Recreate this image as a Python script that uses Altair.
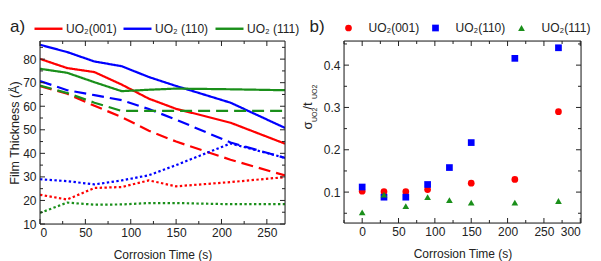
import altair as alt
import pandas as pd

FONT = "Liberation Sans"
INK = "#222222"

# ---------------- data ----------------
t = [0, 30, 60, 90, 120, 150, 210, 270]
orients = ["UO₂(001)", "UO₂ (110)", "UO₂ (111)"]
orients_b = ["UO₂(001)", "UO₂(110)", "UO₂(111)"]
kinds = ["solid", "dash", "dot"]
colors = ["#ff0000", "#0000ff", "#1a8f1a"]

a_001_solid = [80.1, 76.2, 74.5, 69.2, 63.2, 58.9, 53.0, 44.1]
a_001_dash = [68.5, 65.3, 60.2, 55.4, 49.6, 45.0, 37.3, 30.6]
a_001_dot = [22.4, 20.4, 25.3, 25.7, 28.5, 26.0, 27.8, 29.9]
a_110_solid = [86.1, 83.0, 79.0, 77.0, 72.4, 68.6, 61.5, 50.8]
a_110_dash = [70.7, 66.8, 64.7, 62.6, 58.8, 54.3, 44.6, 38.1]
a_110_dot = [29.0, 28.2, 26.8, 28.5, 30.7, 35.0, 44.2, 38.1]
a_111_solid = [75.9, 74.2, 70.2, 66.4, 67.0, 67.5, 67.2, 66.8]
a_111_dash = [68.8, 65.6, 61.5, 58.0, 58.0, 58.0, 58.0, 58.0]
a_111_dot = [14.7, 19.1, 18.2, 18.3, 18.9, 18.9, 18.4, 18.4]

t_b_001 = [0, 30, 60, 90, 150, 210, 270]
b_001 = [0.102, 0.101, 0.101, 0.106, 0.121, 0.130, 0.290]
t_b_110 = [0, 30, 60, 90, 120, 150, 210, 270]
b_110 = [0.112, 0.088, 0.088, 0.118, 0.158, 0.217, 0.416, 0.441]
t_b_111 = [0, 30, 60, 90, 120, 150, 210, 270]
b_111 = [0.052, 0.094, 0.067, 0.088, 0.081, 0.075, 0.075, 0.079]

xa_major = [0, 50, 100, 150, 200, 250]
xa_minor = [25, 75, 125, 175, 225]
ya_major = [10, 20, 30, 40, 50, 60, 70, 80]
ya_minor = [15, 25, 35, 45, 55, 65, 75, 85]
xb_major = [0, 50, 100, 150, 200, 250, 300]
xb_minor = [-25, 25, 75, 125, 175, 225, 275]
yb_major = [0.1, 0.2, 0.3, 0.4]
yb_minor = [0.05, 0.15, 0.25, 0.35, 0.45]

# ---------------- tables ----------------
series_a = {
    (orients[0], "solid"): a_001_solid, (orients[0], "dash"): a_001_dash, (orients[0], "dot"): a_001_dot,
    (orients[1], "solid"): a_110_solid, (orients[1], "dash"): a_110_dash, (orients[1], "dot"): a_110_dot,
    (orients[2], "solid"): a_111_solid, (orients[2], "dash"): a_111_dash, (orients[2], "dot"): a_111_dot,
}
rows = []
for (o, k), vals in series_a.items():
    for ti, v in zip(t, vals):
        rows.append({"t": ti, "v": v, "orient": o, "kind": k, "key": o + k})
df_a = pd.DataFrame(rows)

rows = []
for o, ts, vs in zip(orients_b, [t_b_001, t_b_110, t_b_111], [b_001, b_110, b_111]):
    for ti, v in zip(ts, vs):
        rows.append({"t": ti, "v": v, "orient": o})
df_b = pd.DataFrame(rows)

dummy = pd.DataFrame({"k": [0]})

common = dict(domain=False, grid=False, ticks=False, labelColor=INK, titleColor=INK,
              labelFont=FONT, titleFont=FONT, labelFontSize=12, titleFontSize=12,
              titleFontWeight="normal")


def frame_layers(xscale, yscale, xmaj, xmin, ymaj, ymin, W, H):
    layers = [
        alt.Chart(dummy).mark_rect(fillOpacity=0, stroke=INK, strokeWidth=1).encode(
            x=alt.value(0), x2=alt.value(W), y=alt.value(0), y2=alt.value(H))
    ]
    for vals, ln in ((xmaj, 5), (xmin, 3)):
        d = pd.DataFrame({"t": vals})
        base = alt.Chart(d).mark_rule(color=INK, strokeWidth=1)
        layers.append(base.encode(x=alt.X("t:Q", scale=xscale, axis=None),
                                  y=alt.value(H), y2=alt.value(H - ln)))
        layers.append(base.encode(x=alt.X("t:Q", scale=xscale, axis=None),
                                  y=alt.value(0), y2=alt.value(ln)))
    for vals, ln in ((ymaj, 5), (ymin, 3)):
        d = pd.DataFrame({"v": vals})
        base = alt.Chart(d).mark_rule(color=INK, strokeWidth=1)
        layers.append(base.encode(y=alt.Y("v:Q", scale=yscale, axis=None),
                                  x=alt.value(0), x2=alt.value(ln)))
        layers.append(base.encode(y=alt.Y("v:Q", scale=yscale, axis=None),
                                  x=alt.value(W), x2=alt.value(W - ln)))
    return layers


# ---------------- panel a ----------------
WA, HA = 245, 183
xs_a = alt.Scale(domain=[0, 270], nice=False, zero=False)
ys_a = alt.Scale(domain=[10, 87.7], nice=False, zero=False)

lines_a = alt.Chart(df_a).mark_line(strokeWidth=2.2, clip=True).encode(
    x=alt.X("t:Q", scale=xs_a,
            axis=alt.Axis(orient="bottom", values=xa_major, labelPadding=3,
                          title="Corrosion Time (s)", titlePadding=11, **common)),
    y=alt.Y("v:Q", scale=ys_a,
            axis=alt.Axis(orient="left", values=ya_major, labelPadding=4,
                          title="Film Thickness (Å)", titlePadding=1,
                          **{**common, "titleFontSize": 12.5})),
    color=alt.Color("orient:N", scale=alt.Scale(domain=orients, range=colors),
                    legend=alt.Legend(orient="none", legendX=-7, legendY=-28, direction="horizontal",
                                      title=None, symbolType="stroke", symbolSize=784,
                                      symbolStrokeWidth=2.4, labelFont=FONT, labelFontSize=12,
                                      labelColor=INK, labelOffset=2, columnPadding=1, padding=0)),
    strokeDash=alt.StrokeDash("kind:N", scale=alt.Scale(domain=kinds, range=[[1, 0], [12, 6], [2.4, 2.4]]),
                              legend=None),
    detail="key:N",
)

label_a = alt.Chart(dummy).mark_text(text="a)", fontSize=17, font=FONT, align="left",
                                     baseline="alphabetic", color=INK).encode(
    x=alt.value(-30), y=alt.value(-9))

panel_a = alt.layer(lines_a, *frame_layers(xs_a, ys_a, xa_major, xa_minor, ya_major, ya_minor, WA, HA),
                    label_a).resolve_axis(x="independent", y="independent").properties(width=WA, height=HA)

# ---------------- panel b ----------------
WB, HB = 237, 182
xs_b = alt.Scale(domain=[-25, 301], nice=False, zero=False)
ys_b = alt.Scale(domain=[0.027, 0.457], nice=False, zero=False)

points_b = alt.Chart(df_b).mark_point(filled=True, opacity=1, size=45).encode(
    x=alt.X("t:Q", scale=xs_b,
            axis=alt.Axis(orient="bottom", values=xb_major, labelPadding=3,
                          title="Corrosion Time (s)", titlePadding=11, **common)),
    y=alt.Y("v:Q", scale=ys_b,
            axis=alt.Axis(orient="left", values=yb_major, format=".1f",
                          labelPadding=4, title=None, **common)),
    color=alt.Color("orient:N", scale=alt.Scale(domain=orients_b, range=colors),
                    legend=alt.Legend(orient="none", legendX=-1.5, legendY=-19, direction="horizontal",
                                      title=None, symbolSize=45, labelFont=FONT, labelFontSize=12,
                                      labelColor=INK, labelOffset=14, columnPadding=10, padding=0,
                                      symbolStrokeWidth=0)),
    shape=alt.Shape("orient:N", scale=alt.Scale(domain=orients_b, range=["circle", "square", "triangle-up"])),
)

label_b = alt.Chart(dummy).mark_text(text="b)", fontSize=17, font=FONT, align="left",
                                     baseline="alphabetic", color=INK).encode(
    x=alt.value(-34.5), y=alt.value(-9))

# y title of panel b with subscripts: sigma_UO2 / t_UO2
title_pieces = [
    ("σ", 13, -32.2, 88.5),
    ("UO2", 7, -27.2, 81),
    ("/t", 13, -32.2, 68.5),
    ("UO2", 7, -27.2, 58),
]
title_layers = []
for txt, fs, xx, yy in title_pieces:
    title_layers.append(
        alt.Chart(dummy).mark_text(text=txt, fontSize=fs, font=FONT, align="left",
                                   baseline="alphabetic", angle=270, color=INK).encode(
            x=alt.value(xx), y=alt.value(yy)))

panel_b = alt.layer(points_b, *frame_layers(xs_b, ys_b, xb_major, xb_minor, yb_major, yb_minor, WB, HB),
                    label_b, *title_layers).resolve_axis(x="independent", y="independent").properties(
    width=WB, height=HB)

chart = alt.hconcat(panel_a, panel_b, spacing=0).resolve_scale(
    color="independent", shape="independent", strokeDash="independent").resolve_legend(
    color="independent", shape="independent").properties(
    padding={"left": 0, "top": 4, "right": 0, "bottom": 0}).configure_view(
    stroke=INK, strokeWidth=1).configure(font=FONT)

chart.save("out.html", embed_options={"renderer": "svg", "actions": False})
